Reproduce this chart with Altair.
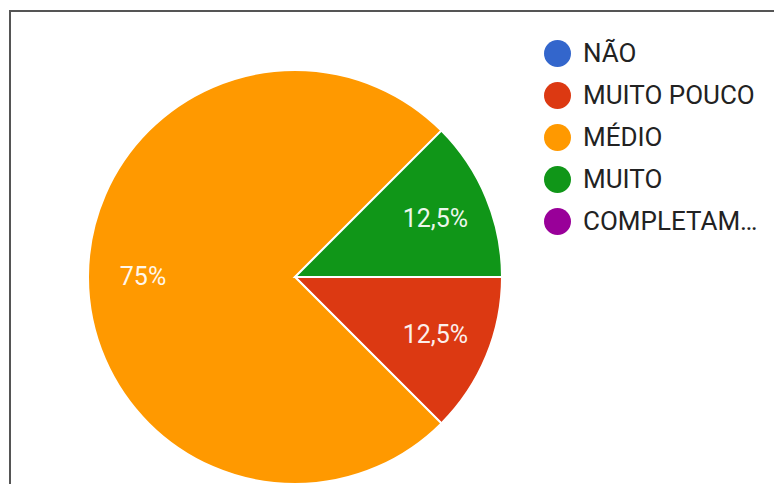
import math
import altair as alt
import pandas as pd

categories = ["NÃO", "MUITO POUCO", "MÉDIO", "MUITO", "COMPLETAMENTE"]
shares = [0, 12.5, 75, 12.5, 0]
colors = ["#3366cc", "#dc3912", "#ff9900", "#109618", "#990099"]

df = pd.DataFrame({"cat": categories, "share": shares, "idx": list(range(len(categories)))})

CX, CY, R = 295, 277, 207

base = alt.Chart(df).encode(
    theta=alt.Theta("share:Q", stack=True,
                    scale=alt.Scale(range=[math.pi / 2, math.pi / 2 + 2 * math.pi])),
    order=alt.Order("idx:Q"),
    color=alt.Color(
        "cat:N",
        scale=alt.Scale(domain=categories, range=colors),
        legend=alt.Legend(
            title=None, orient="none", legendX=544, legendY=40,
            symbolType="circle", symbolSize=729, symbolStrokeWidth=0,
            labelFont="Roboto", labelFontSize=26, labelColor="#222222",
            labelOffset=12, labelLimit=176, rowPadding=15,
        ),
    ),
)

pie = base.mark_arc(outerRadius=R, stroke="white", strokeWidth=2).encode(
    x=alt.value(CX), y=alt.value(CY)
)

labels = base.transform_filter("datum.share > 0").transform_calculate(
    lbl="replace(format(datum.share, '~g'), '.', ',') + '%'"
).mark_text(radius=152, font="Roboto", fontSize=25, color="white", opacity=0.92).encode(
    text="lbl:N", x=alt.value(CX), y=alt.value(CY), color=alt.value("white")
)

border_left = alt.Chart(df).mark_rule(color="#555555", strokeWidth=2).encode(
    x=alt.value(10), y=alt.value(10), y2=alt.value(484)
)
border_top = alt.Chart(df).mark_rule(color="#555555", strokeWidth=2).encode(
    x=alt.value(9), x2=alt.value(774), y=alt.value(11)
)

chart = alt.layer(pie, labels, border_left, border_top).properties(
    width=774, height=484, autosize=alt.AutoSizeParams(type="none"), padding=0,
    background="white",
).configure_view(stroke=None)

chart.save("out.html", embed_options={"renderer": "svg", "actions": False})
